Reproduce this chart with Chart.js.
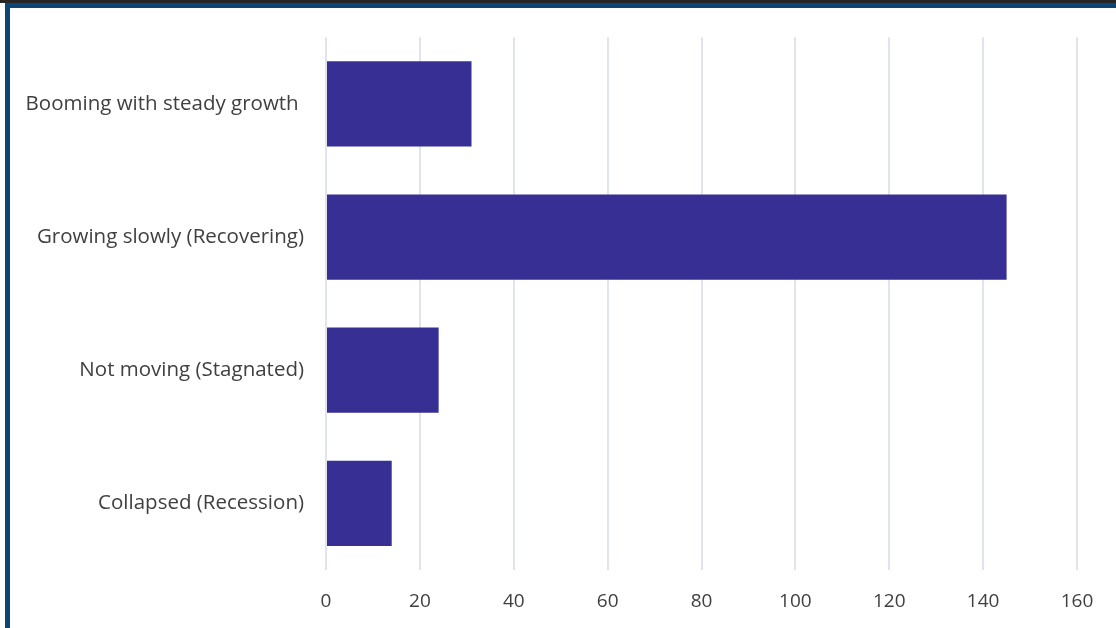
<!DOCTYPE html>
<html>
<head>
<meta charset="utf-8">
<script src="https://cdn.jsdelivr.net/npm/chart.js@4.4.0/dist/chart.umd.min.js"></script>
<style>
  html, body { margin: 0; padding: 0; background: #ffffff; }
  body { width: 1116px; height: 628px; position: relative; overflow: hidden; }
  .topstrip { position: absolute; left: 0; top: 0; width: 1116px; height: 3px; background: #262626; z-index: 2; }
  .frame { position: absolute; left: 5px; top: 3px; width: 1111px; height: 625px; z-index: 2;
           border-top: 5px solid #0b4674; border-left: 5px solid #0b4674; box-sizing: border-box; }
  .wrap { position: absolute; left: 10px; top: 3px; width: 1106px; height: 620px; z-index: 1; }
</style>
</head>
<body>
<div class="topstrip"></div>
<div class="frame"></div>
<div class="wrap"><canvas id="chart"></canvas></div>
<script>
// labels and values
const categories = [
  'Booming with steady growth ',
  'Growing slowly (Recovering)',
  'Not moving (Stagnated)',
  'Collapsed (Recession)'
];
const responses = [31, 145, 24, 14];
const axisMax = 160;
const axisStep = 20;

const ctx = document.getElementById('chart').getContext('2d');
new Chart(ctx, {
  type: 'bar',
  data: {
    labels: categories,
    datasets: [{
      label: 'Responses',
      data: responses,
      backgroundColor: '#372f93',
      borderWidth: 0,
      categoryPercentage: 1,
      barPercentage: 0.64
    }]
  },
  options: {
    indexAxis: 'y',
    responsive: true,
    maintainAspectRatio: false,
    animation: false,
    layout: { padding: { left: 0, right: 39, top: 20, bottom: 0 } },
    plugins: {
      legend: { display: false },
      tooltip: { enabled: false }
    },
    scales: {
      x: {
        min: 0,
        max: axisMax,
        ticks: {
          stepSize: axisStep,
          color: '#404040',
          padding: 20,
          font: { family: 'Open Sans', size: 19 }
        },
        grid: { color: '#e1e4ed', lineWidth: 2, drawTicks: false },
        border: { display: false },
        afterFit: (scale) => { scale.height = 53; }
      },
      y: {
        ticks: {
          color: '#404040',
          padding: 22,
          font: { family: 'Open Sans', size: 20.5 }
        },
        grid: { display: false, drawTicks: false },
        border: { display: false },
        afterFit: (scale) => { scale.width = 316; }
      }
    }
  }
});
</script>
</body>
</html>
